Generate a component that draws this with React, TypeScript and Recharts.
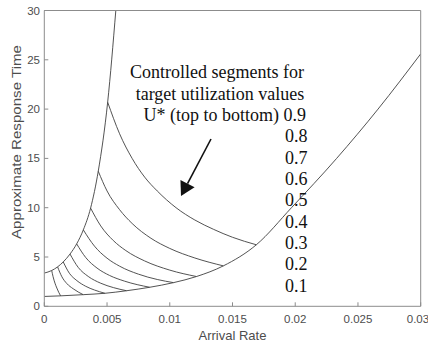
import React from 'react';
import { LineChart, Line, XAxis, YAxis, Label } from 'recharts';

const xTicks = [0, 0.005, 0.01, 0.015, 0.02, 0.025, 0.03];
const yTicks = [0, 5, 10, 15, 20, 25, 30];

// uncontrolled response time: left boundary, blows up near 0.006
const upperRate = [0, 0.00059, 0.00106, 0.00151, 0.00205, 0.00258, 0.00311, 0.00369, 0.0043, 0.00505, 0.0057];
const upperTime = [3.37, 3.63, 4.0, 4.5, 5.3, 6.33, 7.75, 9.96, 13.7, 20.7, 30];

// lower envelope where the controlled segments land
const lowerRate = [0, 0.0013, 0.0031, 0.00483, 0.00656, 0.0084, 0.0103, 0.01213, 0.01427, 0.0169, 0.0197, 0.0233, 0.0266, 0.03];
const lowerTime = [1.0, 1.06, 1.18, 1.32, 1.58, 1.93, 2.4, 3.02, 4.1, 6.24, 10.0, 15.0, 20.0, 25.6];

// controlled segments, one per target utilization U*
const targets = [0.1, 0.2, 0.3, 0.4, 0.5, 0.6, 0.7, 0.8, 0.9];
const segmentRates = [
  [0.00059, 0.0007, 0.00085, 0.001, 0.00115, 0.0013],
  [0.00106, 0.0014, 0.0018, 0.0023, 0.0031],
  [0.00151, 0.002, 0.0026, 0.0033, 0.004, 0.00483],
  [0.00205, 0.0027, 0.0035, 0.0045, 0.0055, 0.00656],
  [0.00258, 0.0033, 0.0042, 0.0052, 0.0064, 0.0084],
  [0.00311, 0.004, 0.005, 0.006, 0.0075, 0.009, 0.0103],
  [0.00369, 0.0045, 0.0055, 0.0065, 0.008, 0.01, 0.01213],
  [0.0043, 0.005, 0.006, 0.007, 0.0085, 0.01, 0.012, 0.01427],
  [0.00505, 0.006, 0.007, 0.008, 0.009, 0.0105, 0.012, 0.0135, 0.015, 0.0169],
];
const segmentTimes = [
  [3.63, 3.0, 2.35, 1.85, 1.42, 1.06],
  [4.0, 3.0, 2.3, 1.78, 1.18],
  [4.5, 3.35, 2.6, 2.03, 1.65, 1.32],
  [5.3, 3.95, 3.03, 2.34, 1.9, 1.58],
  [6.33, 4.95, 3.88, 3.13, 2.55, 1.93],
  [7.75, 6.1, 4.88, 4.07, 3.26, 2.72, 2.4],
  [9.96, 8.15, 6.67, 5.65, 4.6, 3.67, 3.02],
  [13.7, 11.7, 9.8, 8.4, 6.9, 5.87, 4.9, 4.1],
  [20.7, 17.5, 15.0, 13.1, 11.7, 10.0, 8.75, 7.8, 7.0, 6.24],
];

const toPoints = (xs: number[], ys: number[]) => xs.map((x, i) => ({ x, y: ys[i] }));

const SANS = '"Liberation Sans", Arial, sans-serif';
const SERIF = '"Liberation Serif", "Times New Roman", serif';
const AXIS = '#8c8c8c';
const CURVE = '#404040';
const tickStyle = { fill: '#4d4d4d', fontSize: 11.5, fontFamily: SANS };

function Annotation() {
  const tip = { x: 181, y: 196 };
  const tail = { x: 211, y: 139 };
  const dx = tail.x - tip.x;
  const dy = tail.y - tip.y;
  const len = Math.hypot(dx, dy);
  const ux = dx / len;
  const uy = dy / len;
  const headLen = 14;
  const half = 8;
  const bx = tip.x + ux * headLen;
  const by = tip.y + uy * headLen;
  const head = `${tip.x},${tip.y} ${bx - uy * half},${by + ux * half} ${bx + uy * half},${by - ux * half}`;
  const numberRows = ['0.8', '0.7', '0.6', '0.5', '0.4', '0.3', '0.2', '0.1'];
  return (
    <svg width={428} height={346} style={{ position: 'absolute', left: 0, top: 0, pointerEvents: 'none' }}>
      <g fontFamily={SERIF} fontSize={18} fill="#111">
        <text x={217} y={78} textAnchor="middle">Controlled segments for</text>
        <text x={220} y={99.5} textAnchor="middle">target utilization values</text>
        <text x={306} y={121} textAnchor="end">U* (top to bottom) 0.9</text>
        {numberRows.map((t, i) => (
          <text key={t} x={285} y={142.4 + i * 21.3}>{t}</text>
        ))}
      </g>
      <line x1={tail.x} y1={tail.y} x2={bx} y2={by} stroke="#111" strokeWidth={1.6} />
      <polygon points={head} fill="#111" />
    </svg>
  );
}

export default function App() {
  return (
    <div style={{ position: 'absolute', left: 0, top: 0, width: 428, height: 346, background: '#fff' }}>
      <LineChart width={428} height={346} margin={{ top: 9.5, right: 6.3, left: 0.3, bottom: 9.7 }}>
        <XAxis
          type="number"
          dataKey="x"
          domain={[0, 0.03]}
          ticks={xTicks}
          allowDataOverflow
          height={30}
          stroke={AXIS}
          tickSize={-4}
          tickMargin={12.7}
          tick={tickStyle}
          tickFormatter={(v: number) => String(v)}
        >
          <Label
            content={() => (
              <text x={232.5} y={340} textAnchor="middle" fontFamily={SANS} fontSize={13} fill="#4d4d4d">
                Arrival Rate
              </text>
            )}
          />
        </XAxis>
        <XAxis
          xAxisId="top"
          orientation="top"
          type="number"
          domain={[0, 0.03]}
          ticks={xTicks}
          height={1}
          stroke={AXIS}
          tickSize={-4}
          tickFormatter={() => ''}
        />
        <YAxis
          type="number"
          domain={[0, 30]}
          ticks={yTicks}
          allowDataOverflow
          width={44}
          stroke={AXIS}
          tickSize={-4}
          tickMargin={8.3}
          tick={tickStyle}
        >
          <Label
            content={() => (
              <text
                x={0}
                y={0}
                transform="translate(20.5,142) rotate(-90)"
                textAnchor="middle"
                fontFamily={SANS}
                fontSize={12}
                fill="#4d4d4d"
                textLength={194}
                lengthAdjust="spacingAndGlyphs"
              >
                Approximate Response Time
              </text>
            )}
          />
        </YAxis>
        <YAxis
          yAxisId="right"
          orientation="right"
          type="number"
          domain={[0, 30]}
          ticks={yTicks}
          width={1}
          stroke={AXIS}
          tickSize={-4}
          tickFormatter={() => ''}
        />
        <Line
          data={toPoints(upperRate, upperTime)}
          dataKey="y"
          type="monotone"
          stroke={CURVE}
          strokeWidth={0.9}
          dot={false}
          isAnimationActive={false}
        />
        <Line
          data={toPoints(lowerRate, lowerTime)}
          dataKey="y"
          type="monotone"
          stroke={CURVE}
          strokeWidth={0.9}
          dot={false}
          isAnimationActive={false}
        />
        {targets.map((u, i) => (
          <Line
            key={u}
            data={toPoints(segmentRates[i], segmentTimes[i])}
            dataKey="y"
            type="monotone"
            stroke={CURVE}
            strokeWidth={0.9}
            dot={false}
            isAnimationActive={false}
          />
        ))}
      </LineChart>
      <Annotation />
    </div>
  );
}
